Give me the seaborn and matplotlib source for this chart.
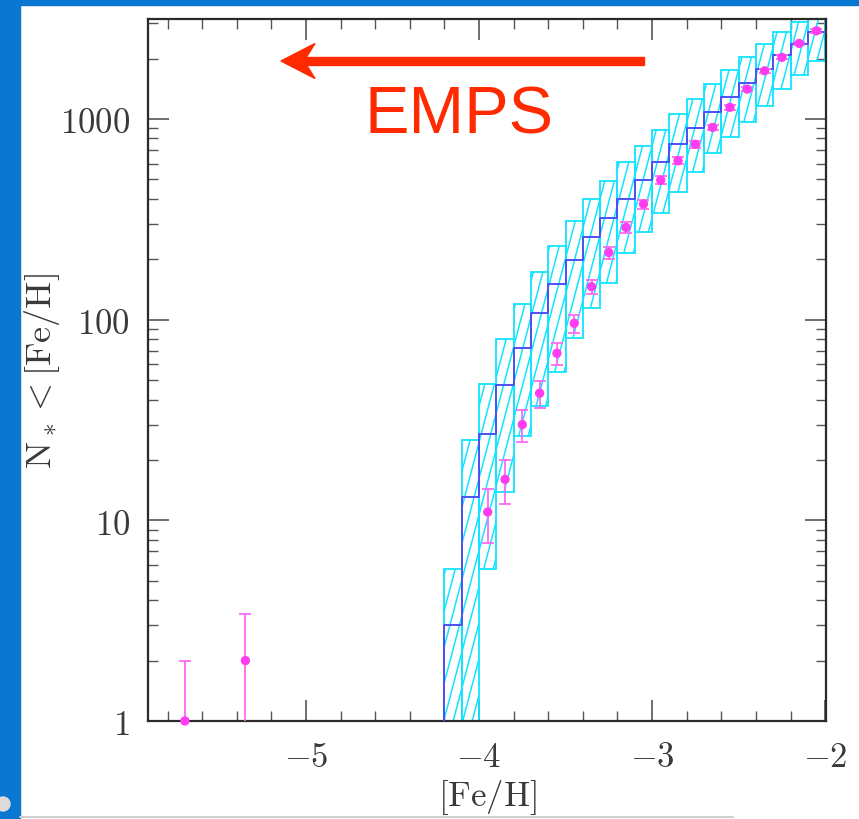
import numpy as np
import pandas as pd
import matplotlib
matplotlib.use("Agg")
import matplotlib.pyplot as plt
import seaborn as sns
from matplotlib.patches import Polygon, Rectangle, Circle
from matplotlib.lines import Line2D
from matplotlib.collections import LineCollection
from matplotlib.transforms import Affine2D
from matplotlib.ticker import MultipleLocator, LogLocator, NullFormatter

# ---------------- data ----------------
bin_left = [-4.2, -4.1, -4.0, -3.9, -3.8, -3.7, -3.6, -3.5, -3.4, -3.3, -3.2,
            -3.1, -3.0, -2.9, -2.8, -2.7, -2.6, -2.5, -2.4, -2.3, -2.2, -2.1]
bin_width = 0.1
model_n = [3, 13, 27, 47, 72, 108, 150, 199, 258, 320, 400,
           496, 608, 750, 900, 1080, 1290, 1520, 1770, 2080, 2360, 2700]
band_upper = [5.7, 25, 48, 80, 120, 172, 232, 310, 399, 492, 608,
              735, 884, 1060, 1260, 1500, 1750, 2040, 2360, 2700, 3050, 3400]
band_lower = [0.5, 0.5, 5.7, 13.8, 26.4, 37, 55, 81, 114, 153, 215,
              275, 340, 435, 545, 680, 809, 962, 1164, 1409, 1655, 1950]

obs_feh = [-5.70, -5.35, -3.95, -3.85, -3.75, -3.65, -3.55, -3.45, -3.35, -3.25, -3.15,
           -3.05, -2.95, -2.85, -2.75, -2.65, -2.55, -2.45, -2.35, -2.25, -2.15, -2.05]
obs_n = [1, 2, 11, 16, 30, 43, 68, 96, 146, 216, 288,
         377, 496, 619, 748, 908, 1143, 1409, 1739, 2028, 2381, 2750]

x_ticks = [-5, -4, -3, -2]
x_tick_labels = [r"$-5$", r"$-4$", r"$-3$", r"$-2$"]
y_ticks = [1, 10, 100, 1000]
y_tick_labels = [r"$1$", r"$10$", r"$100$", r"$1000$"]

# ---------------- style ----------------
sns.set_style("ticks")
plt.rcParams["mathtext.fontset"] = "cm"
plt.rcParams["font.family"] = ["DejaVu Sans"]

CYAN = "#12e4ff"
BLUE = "#4f4ff2"
MAGENTA = "#ff3cf0"
MAGENTA_ERR = "#ff6af2"
RED = "#ff2a00"
FRAME_BLUE = "#0a78d2"

FW, FH = 859, 820
fig = plt.figure(figsize=(FW / 100, FH / 100), dpi=100)
fig.patch.set_facecolor("white")

ax_l, ax_r, ax_t, ax_b = 148, 826, 20, 722
ax = fig.add_axes([ax_l / FW, 1 - ax_b / FH, (ax_r - ax_l) / FW, (ax_b - ax_t) / FH])
ax.set_facecolor("white")
ax.set_yscale("log")

# ---------------- band: hatched boxes ----------------
df_band = pd.DataFrame({"left": bin_left, "lo": band_lower, "hi": band_upper})
bars = ax.bar(df_band["left"], df_band["hi"] - df_band["lo"], bottom=df_band["lo"],
              width=bin_width, align="edge", fill=False, edgecolor=CYAN,
              linewidth=1.3, zorder=2)

# steep hatch lines clipped to each box
W, H = ax_r - ax_l, ax_b - ax_t
slope = 3.8
spacing = 9.5
dxf = (H / slope) / W
offs = np.arange(-dxf - 0.02, 1.02, spacing / W)
segs = [[(u, 0.0), (u + dxf, 1.0)] for u in offs]
for rect in bars.patches:
    lc = LineCollection(segs, colors=CYAN, linewidths=1.1,
                        transform=ax.transAxes, zorder=1.5)
    ax.add_collection(lc, autolim=False)
    lc.set_clip_path(rect)

# ---------------- model step line ----------------
x_line = [bin_left[0] - bin_width] + bin_left + [bin_left[-1] + bin_width]
y_line = [0.1] + model_n + [model_n[-1]]
df_line = pd.DataFrame({"feh": x_line, "n": y_line})
sns.lineplot(data=df_line, x="feh", y="n", ax=ax, drawstyle="steps-post",
             estimator=None, sort=False, color=BLUE, linewidth=1.4, zorder=3)

# ---------------- observed points ----------------
obs_n_arr = np.array(obs_n, dtype=float)
err = np.sqrt(obs_n_arr)
err_lo = np.minimum(err, obs_n_arr - 0.01)
ax.errorbar(obs_feh, obs_n, yerr=[err_lo, err], fmt="none", ecolor=MAGENTA_ERR,
            elinewidth=1.3, capsize=4, capthick=1.3, zorder=4)
df_obs = pd.DataFrame({"feh": obs_feh, "n": obs_n})
sns.scatterplot(data=df_obs, x="feh", y="n", ax=ax, color=MAGENTA, s=45,
                edgecolor="none", zorder=5, clip_on=False)

# ---------------- axes ----------------
ax.set_xlim(-5.913, -1.995)
ax.set_ylim(1, 3150)
ax.set_xticks(x_ticks)
ax.set_xticklabels(x_tick_labels)
ax.xaxis.set_minor_locator(MultipleLocator(0.2))
ax.set_yticks(y_ticks)
ax.set_yticklabels(y_tick_labels)
ax.yaxis.set_minor_locator(LogLocator(base=10, subs=range(2, 10)))
ax.yaxis.set_minor_formatter(NullFormatter())

ax.tick_params(which="both", direction="in", top=True, right=True,
               colors="#555555", labelcolor="#3a3a3a")
ax.tick_params(which="major", length=15, width=1.2, labelsize=25, pad=13)
ax.tick_params(which="minor", length=7.5, width=1.0)
for s in ax.spines.values():
    s.set_linewidth(1.6)
    s.set_color("#2a2a2a")

ax.set_xlabel(r"$\rm [Fe/H]$", fontsize=25, color="#3a3a3a")
ax.set_ylabel(r"$\rm N_*<[Fe/H]$", fontsize=26, color="#3a3a3a")
ax.xaxis.set_label_coords(0.5, -0.080)
ax.yaxis.set_label_coords(-0.127, 0.5)

# ---------------- decorations in figure pixels ----------------
px = Affine2D().scale(1 / FW, -1 / FH).translate(0, 1) + fig.transFigure

fig.add_artist(Rectangle((0, 0), 20, FH, transform=px, color=FRAME_BLUE, zorder=0))
fig.add_artist(Rectangle((0, 0), FW, 6, transform=px, color=FRAME_BLUE, zorder=0))
fig.add_artist(Circle((3, 805), 7, transform=px, color="#dcdcdc", zorder=1))
fig.add_artist(Line2D([20, 733], [818, 818], transform=px, color="#cfcfcf", lw=1.5))

# arrow
fig.add_artist(Rectangle((300, 58.2), 644 - 300, 7.6, transform=px, color=RED, zorder=6))
fig.add_artist(Polygon([(281, 62), (315, 44.5), (304, 62), (315, 79.5)], closed=True,
                       transform=px, color=RED, zorder=6))
fig.text(364, 133, "EMPS", transform=px, fontsize=48, color=RED,
         family=["Liberation Sans", "DejaVu Sans"], ha="left", va="baseline", zorder=6)

fig.savefig("out.png", dpi=100, facecolor=fig.get_facecolor())
